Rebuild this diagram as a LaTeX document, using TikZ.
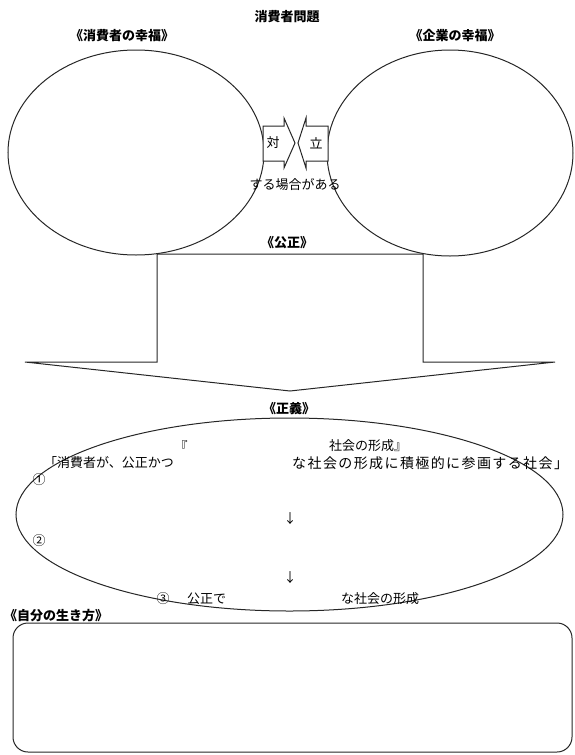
\documentclass[tikz,border=0pt]{standalone}
\usepackage{fontspec}
\setmainfont{Noto Sans CJK JP}
\usetikzlibrary{shapes.geometric}
\begin{document}
\begin{tikzpicture}[x=1pt,y=-1pt,
  line/.style={draw=black!85, line width=1pt},
  lbl/.style={inner sep=0pt, font=\fontsize{13}{13}\selectfont},
  wide/.style={inner sep=0pt, font=\fontsize{14}{14}\selectfont\addfontfeatures{LetterSpace=10}},
  hd/.style={inner sep=0pt, font=\fontsize{13}{13}\selectfont\bfseries},
  oval/.style={ellipse, line, inner sep=0pt, outer sep=0pt},
  chevron/.style={line, fill=white, line join=miter},
]
\useasboundingbox (0,0) rectangle (574,755);
% headings
\node[hd] (title) at (287,17) {消費者問題};
\node[hd] (lh) at (122,36) {《消費者の幸福》};
\node[hd] (rh) at (455,36) {《企業の幸福》};
% two ellipses
\node[oval, minimum width=256pt, minimum height=205pt] (consumer) at (136,152.5) {};
\node[oval, minimum width=246pt, minimum height=206pt] (company) at (450,153) {};
% opposing arrows
\draw[chevron] (263,126) -- (284,126) -- (284,118) -- (295,143) -- (284,168) -- (284,161) -- (263,161) -- cycle;
\draw[chevron] (328,126) -- (306,126) -- (306,118) -- (298,143) -- (306,168) -- (306,161) -- (328,161) -- cycle;
\node[lbl] (tai) at (273,143) {対};
\node[lbl] (ritsu) at (316,143) {立};
\node[lbl] (case) at (295,185) {する場合がある};
% big block arrow
\draw[line, line join=miter] (157,254) -- (423,254) -- (423,362) -- (555,362) -- (290,391) -- (25,362) -- (157,362) -- cycle;
\node[hd] (fair) at (287,243) {《公正》};
\node[hd] (justice) at (289,409) {《正義》};
% lower ellipse
\node[oval, minimum width=547pt, minimum height=193pt] (society) at (289.5,514.5) {};
\node[lbl] (q1) at (181,446) {『};
\node[lbl, anchor=west] (q2) at (329,446) {社会の形成』};
\node[lbl, anchor=west] (s1) at (44,463) {「消費者が、公正かつ};
\node[wide, anchor=west] (s2) at (292,463) {な社会の形成に積極的に参画する社会」};
\node[lbl] (n1) at (39,480) {①};
\node[lbl] (d1) at (290,519) {↓};
\node[lbl] (n2) at (39,541) {②};
\node[lbl] (d2) at (290,578) {↓};
\node[lbl] (n3) at (163,599) {③};
\node[lbl, anchor=west] (s3) at (187,599) {公正で};
\node[lbl, anchor=west] (s4) at (341,599) {な社会の形成};
% own way of life
\node[hd, anchor=west] (life) at (4,616) {《自分の生き方》};
\node[line, rounded corners=15pt, inner sep=0pt, minimum width=559pt, minimum height=129pt] (box) at (292.5,687.5) {};
\end{tikzpicture}
\end{document}
